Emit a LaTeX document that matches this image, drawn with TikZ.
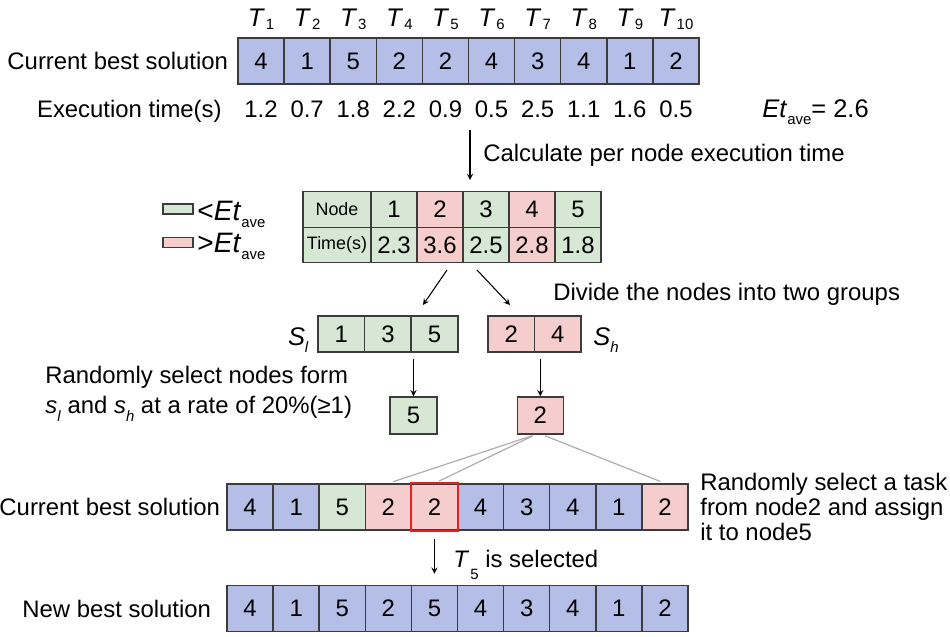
\documentclass[tikz,border=0pt]{standalone}
\usepackage{fontspec}
\setmainfont{Liberation Sans}
\usetikzlibrary{positioning}

\definecolor{cellblue}{RGB}{181,190,230}
\definecolor{cellgreen}{RGB}{214,231,211}
\definecolor{cellpink}{RGB}{245,205,205}
\definecolor{cellline}{RGB}{60,60,60}
\definecolor{picked}{RGB}{228,32,32}
\definecolor{linkgray}{RGB}{175,175,175}

\newcommand{\Low}[2][2pt]{\raisebox{-#1}{\fontsize{8.5}{9}\selectfont #2}}
\newcommand{\Tsub}[1]{\textit{T}\kern.6pt\Low{#1}}
\newcommand{\EtAve}{\textit{Et}\Low[4.5pt]{ave}}

\begin{document}
\begin{tikzpicture}[>=stealth, x=0.02cm, y=-0.02cm,
cell/.style={draw=cellline, line width=.8pt, minimum width=.922cm, minimum height=.92cm, inner sep=0, font=\fontsize{13.6}{16}\selectfont},
tcell/.style={cell, minimum height=.71cm},
gcell/.style={cell, minimum width=.932cm, minimum height=.72cm},
txt/.style={inner sep=0, font=\fontsize{13.6}{16}\selectfont},
task/.style={inner sep=0, font=\fontsize{14.5}{16}\selectfont},
keytxt/.style={inner sep=0, font=\fontsize{16}{18}\selectfont},
key/.style={draw=cellline, line width=.8pt, minimum width=.6cm, minimum height=.2cm, inner sep=0},
link/.style={linkgray, line width=.7pt, shorten <=.06cm, shorten >=.1cm},
flow/.style={->, line width=.6pt},
]

\useasboundingbox (0,0) rectangle (950,636);

%%%%%%%%%%%%%%%%%%%%%%%% CURRENT BEST SOLUTION %%%%%%%%%%%%%%%%%%%%%%%%
\foreach \v [count=\i] in {4,1,5,2,2,4,3,4,1,2}
  \node[cell, fill=cellblue] (cur\i) at ({238+46.1*(\i-.5)},61) {\v};
\foreach \i in {1,...,10}
  \node[task, above=.14cm of cur\i] (t\i) {\Tsub{\i}};
\foreach \v [count=\i] in {1.2,0.7,1.8,2.2,0.9,0.5,2.5,1.1,1.6,0.5}
  \node[txt, anchor=base] (et\i) at ({238+46.1*(\i-.5)},117) {\v};

\node[txt, left=.18cm of cur1] (curlbl) {Current best solution};
\node[txt, anchor=base east] (etlbl) at (222,117) {Execution time(s)};
\node[task, anchor=base west] (etave) at (762,117) {\EtAve= 2.6};

\coordinate (calcS) at (470,130);
\coordinate (calcE) at (470,180);
\draw[flow] (calcS) -- (calcE);
\node[txt, anchor=base west] (calctxt) at (483,161) {Calculate per node execution time};

%%%%%%%%%%%%%%%%%%%%%%%% PER NODE TABLE %%%%%%%%%%%%%%%%%%%%%%%%
\node[key, fill=cellgreen] (keylo) at (178,209) {};
\node[key, fill=cellpink] (keyhi) at (178,242.5) {};
\node[keytxt, anchor=base west] (keylotxt) at (197,220) {<\EtAve};
\node[keytxt, anchor=base west] (keyhitxt) at (197,252) {>\EtAve};

\node[tcell, fill=cellgreen, minimum width=1.36cm, font=\fontsize{10.2}{12}\selectfont] (tn0) at (337,209.5) {Node};
\node[tcell, fill=cellgreen, minimum width=1.36cm, font=\fontsize{10.2}{12}\selectfont] (tt0) at (337,245) {Time(s)};
\foreach \n/\t/\c [count=\i] in {1/2.3/cellgreen,2/3.6/cellpink,3/2.5/cellgreen,4/2.8/cellpink,5/1.8/cellgreen}{
  \node[tcell, fill=\c] (tn\i) at ({371+46*(\i-.5)},209.5) {\n};
  \node[tcell, fill=\c] (tt\i) at ({371+46*(\i-.5)},245) {\t};
}

%%%%%%%%%%%%%%%%%%%%%%%% TWO GROUPS %%%%%%%%%%%%%%%%%%%%%%%%
\coordinate (divS1) at (447,270);
\coordinate (divE1) at (423,305);
\coordinate (divS2) at (477,270);
\coordinate (divE2) at (510,305);
\draw[flow] (divS1) -- (divE1);
\draw[flow] (divS2) -- (divE2);
\node[txt, anchor=base west] (divtxt) at (553,300) {Divide the nodes into two groups};

\foreach \v [count=\i] in {1,3,5}
  \node[gcell, fill=cellgreen] (sl\i) at ({318+46.6*(\i-.5)},334) {\v};
\foreach \v [count=\i] in {2,4}
  \node[gcell, fill=cellpink] (sh\i) at ({488+46.5*(\i-.5)},334) {\v};
\node[task, anchor=base east] (sllbl) at (309,345) {\textit{S}\Low[4pt]{\textit{l}}};
\node[task, anchor=base west] (shlbl) at (593,345) {\textit{S}\Low[4pt]{\textit{h}}};

\node[cell, fill=cellgreen, minimum width=.94cm, minimum height=.74cm] (pick5) at (413.5,415.5) {5};
\node[cell, fill=cellpink, minimum width=.92cm, minimum height=.74cm] (pick2) at (540.3,415.5) {2};
\draw[flow, shorten <=.12cm] (pick5.north |- sl3.south) -- (pick5.north);
\draw[flow, shorten <=.12cm] (pick2.north |- sh2.south) -- (pick2.north);

\node[txt, anchor=north west, align=left, font=\fontsize{13.6}{17}\selectfont] (randtxt) at (45,366)
  {Randomly select nodes form\\\textit{s}\Low[4.5pt]{\textit{l}} and \textit{s}\Low[4.5pt]{\textit{h}} at a rate of 20\%(≥1)};

%%%%%%%%%%%%%%%%%%%%%%%% MOVE A TASK %%%%%%%%%%%%%%%%%%%%%%%%
\foreach \v/\c [count=\i] in {4/cellblue,1/cellblue,5/cellgreen,2/cellpink,2/cellpink,4/cellblue,3/cellblue,4/cellblue,1/cellblue,2/cellpink}
  \node[cell, fill=\c] (best\i) at ({227+46.1*(\i-.5)},507) {\v};
\draw[picked, line width=1.2pt] (best5.north west) rectangle (best5.south east);
\node[txt, left=.12cm of best1] (bestlbl) {Current best solution};

\draw[link] ([xshift=-.1cm]pick2.south) -- (best4.north);
\draw[link] ([xshift=-.1cm]pick2.south) -- (best5.north);
\draw[link] ([xshift=.04cm]pick2.south) -- (best10.north);

\node[txt, anchor=north west, align=left, font=\fontsize{13.6}{14.2}\selectfont] (movetxt) at (700,472.5)
  {Randomly select a task\\from node2 and assign\\it to node5};

\foreach \v [count=\i] in {4,1,5,2,5,4,3,4,1,2}
  \node[cell, fill=cellblue] (new\i) at ({227+46.1*(\i-.5)},608.5) {\v};
\node[txt, left=.3cm of new1] (newlbl) {New best solution};

\draw[flow, shorten <=.16cm, shorten >=.22cm] (best5.south) -- (new5.north);
\node[txt, anchor=base west] (seltxt) at (453,567) {\textit{T}\kern.6pt\Low[7pt]{5} is selected};

\end{tikzpicture}
\end{document}
